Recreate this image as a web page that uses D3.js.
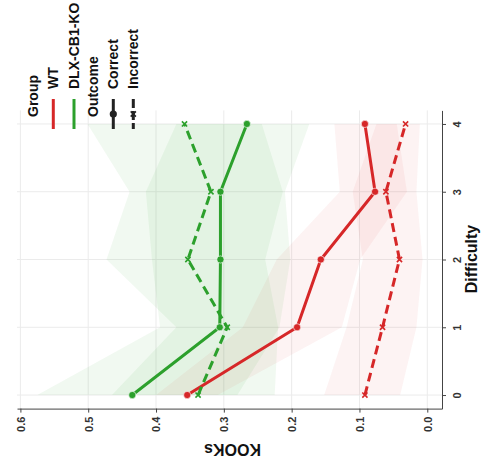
<!DOCTYPE html>
<html>
<head>
<meta charset="utf-8">
<script src="https://cdn.jsdelivr.net/npm/d3@7"></script>
<style>
  html, body { margin: 0; padding: 0; background: #fff; }
  svg { display: block; font-family: "Liberation Sans", Arial, sans-serif; }
</style>
</head>
<body>
<svg id="chart" width="488" height="469"></svg>
<script>
// ---- data ----
const difficulty = [0, 1, 2, 3, 4];
const kookTicks = [0, 0.1, 0.2, 0.3, 0.4, 0.5, 0.6];

const wtCorrect     = [0.354, 0.192, 0.157, 0.077, 0.092];
const wtCorrectLo   = [0.309, 0.126, 0.099, 0.030, 0.045];
const wtCorrectHi   = [0.400, 0.272, 0.222, 0.129, 0.137];

const wtIncorrect   = [0.092, 0.066, 0.041, 0.061, 0.032];
const wtIncorrectLo = [0.040, 0.016, 0.007, 0.016, 0.011];
const wtIncorrectHi = [0.152, 0.119, 0.095, 0.110, 0.075];

const koCorrect     = [0.435, 0.306, 0.305, 0.305, 0.266];
const koCorrectLo   = [0.280, 0.218, 0.202, 0.210, 0.174];
const koCorrectHi   = [0.575, 0.394, 0.406, 0.415, 0.370];

const koIncorrect   = [0.338, 0.295, 0.353, 0.319, 0.358];
const koIncorrectLo = [0.225, 0.220, 0.239, 0.213, 0.244];
const koIncorrectHi = [0.465, 0.370, 0.473, 0.439, 0.501];

const groups = ["WT", "DLX-CB1-KO"];
const outcomes = ["Correct", "Incorrect"];
const groupColors = ["#d62728", "#2ca02c"];
const ribbonOpacity = [0.055, 0.065];

// ---- build series ----
const series = [
  {group: 0, outcome: 1, mean: wtIncorrect, lo: wtIncorrectLo, hi: wtIncorrectHi},
  {group: 0, outcome: 0, mean: wtCorrect,   lo: wtCorrectLo,   hi: wtCorrectHi},
  {group: 1, outcome: 1, mean: koIncorrect, lo: koIncorrectLo, hi: koIncorrectHi},
  {group: 1, outcome: 0, mean: koCorrect,   lo: koCorrectLo,   hi: koCorrectHi}
].map(s => ({...s, pts: difficulty.map((d, i) => ({d, m: s.mean[i], lo: s.lo[i], hi: s.hi[i]}))}));

const svg = d3.select("#chart");

// rotated layout: Difficulty runs bottom->top on the right, KOOKs runs right->left at bottom
const x = d3.scaleLinear().domain([-0.0217, 0.605]).range([442, 17]);
const y = d3.scaleLinear().domain([-0.2, 4.2]).range([408.6, 110.4]);

// grid
const grid = svg.append("g");
grid.selectAll(".gv").data(kookTicks).join("line")
  .attr("x1", d => x(d)).attr("x2", d => x(d))
  .attr("y1", y.range()[1]).attr("y2", y.range()[0])
  .attr("stroke", "#ebebeb").attr("stroke-width", 1);
grid.selectAll(".gh").data(difficulty).join("line")
  .attr("y1", d => y(d)).attr("y2", d => y(d))
  .attr("x1", x.range()[1]).attr("x2", x.range()[0])
  .attr("stroke", "#ebebeb").attr("stroke-width", 1);

// ribbons
const area = d3.area()
  .y(p => y(p.d))
  .x0(p => x(p.lo))
  .x1(p => x(p.hi));
svg.append("g").selectAll("path").data(series).join("path")
  .attr("d", s => area(s.pts))
  .attr("fill", s => groupColors[s.group])
  .attr("fill-opacity", s => ribbonOpacity[s.group])
  .attr("stroke", "none");

// lines
const line = d3.line().x(p => x(p.m)).y(p => y(p.d));
svg.append("g").selectAll("path").data(series).join("path")
  .attr("d", s => line(s.pts))
  .attr("fill", "none")
  .attr("stroke", s => groupColors[s.group])
  .attr("stroke-width", 3)
  .attr("stroke-dasharray", s => s.outcome === 1 ? "9,5" : null);

// points
const pg = svg.append("g");
series.forEach(s => {
  const c = groupColors[s.group];
  if (s.outcome === 0) {
    pg.selectAll(null).data(s.pts).join("circle")
      .attr("cx", p => x(p.m)).attr("cy", p => y(p.d)).attr("r", 3.6)
      .attr("fill", c).attr("stroke", "#fff").attr("stroke-width", 0.6);
  } else {
    const sz = 2.6;
    pg.selectAll(null).data(s.pts).join("path")
      .attr("d", p => {
        const cx = x(p.m), cy = y(p.d);
        return `M${cx - sz},${cy - sz}L${cx + sz},${cy + sz}M${cx - sz},${cy + sz}L${cx + sz},${cy - sz}`;
      })
      .attr("stroke", c).attr("stroke-width", 1.6).attr("fill", "none");
  }
});

// bottom axis (KOOKs)
const xAxis = svg.append("g").attr("transform", `translate(0,${y.range()[0]})`)
  .call(d3.axisBottom(x).tickValues(kookTicks).tickFormat(d3.format(".1f")).tickSize(4).tickSizeOuter(0));
xAxis.select(".domain").attr("stroke", "#444");
xAxis.selectAll(".tick line").attr("stroke", "#444");
xAxis.selectAll(".tick text")
  .attr("transform", "rotate(-90)")
  .attr("x", -8).attr("y", 0).attr("dy", "0.36em")
  .attr("text-anchor", "end")
  .attr("font-size", 11).attr("font-weight", "bold").attr("fill", "#333")
  .attr("font-family", "Liberation Sans, Arial, sans-serif");

// right axis (Difficulty)
const yAxis = svg.append("g").attr("transform", `translate(${x.range()[0]},0)`)
  .call(d3.axisRight(y).tickValues(difficulty).tickFormat(d3.format("d")).tickSize(4).tickSizeOuter(0));
yAxis.select(".domain").attr("stroke", "#444");
yAxis.selectAll(".tick line").attr("stroke", "#444");
yAxis.selectAll(".tick text")
  .attr("x", 0).attr("dy", 0)
  .attr("transform", "translate(19,0) rotate(-90)")
  .attr("text-anchor", "middle")
  .attr("font-size", 11).attr("font-weight", "bold").attr("fill", "#333")
  .attr("font-family", "Liberation Sans, Arial, sans-serif");

// axis titles
svg.append("text")
  .attr("transform", "translate(232.5,444) rotate(180)")
  .attr("text-anchor", "middle")
  .attr("font-size", 16).attr("font-weight", "bold").attr("fill", "#111")
  .text("KOOKs");
svg.append("text")
  .attr("transform", "translate(477,259) rotate(-90)")
  .attr("text-anchor", "middle")
  .attr("font-size", 16).attr("font-weight", "bold").attr("fill", "#111")
  .text("Difficulty");

// legend
const leg = svg.append("g").attr("font-size", 14).attr("font-weight", "bold").attr("fill", "#111");
function vtext(tx, ty, str) {
  leg.append("text").attr("transform", `translate(${tx},${ty}) rotate(-90)`)
    .attr("text-anchor", "start").text(str);
}
vtext(37.5, 117, "Group");
vtext(57.5, 89, groups[0]);
vtext(78.5, 89, groups[1]);
vtext(98, 117, "Outcome");
vtext(118, 89, outcomes[0]);
vtext(138, 89, outcomes[1]);

const keyX = [53.3, 74];
groups.forEach((g, i) => {
  leg.append("line").attr("x1", keyX[i]).attr("x2", keyX[i]).attr("y1", 99).attr("y2", 129)
    .attr("stroke", groupColors[i]).attr("stroke-width", 3);
});
// outcome keys
leg.append("line").attr("x1", 113.3).attr("x2", 113.3).attr("y1", 99).attr("y2", 129)
  .attr("stroke", "#222").attr("stroke-width", 3);
leg.append("circle").attr("cx", 113.3).attr("cy", 114).attr("r", 3.6).attr("fill", "#222");
leg.append("line").attr("x1", 133.3).attr("x2", 133.3).attr("y1", 99).attr("y2", 129)
  .attr("stroke", "#222").attr("stroke-width", 3).attr("stroke-dasharray", "9,3");
leg.append("path")
  .attr("d", "M130.7,111.4L135.9,116.6M130.7,116.6L135.9,111.4")
  .attr("stroke", "#222").attr("stroke-width", 1.6);
</script>
</body>
</html>
